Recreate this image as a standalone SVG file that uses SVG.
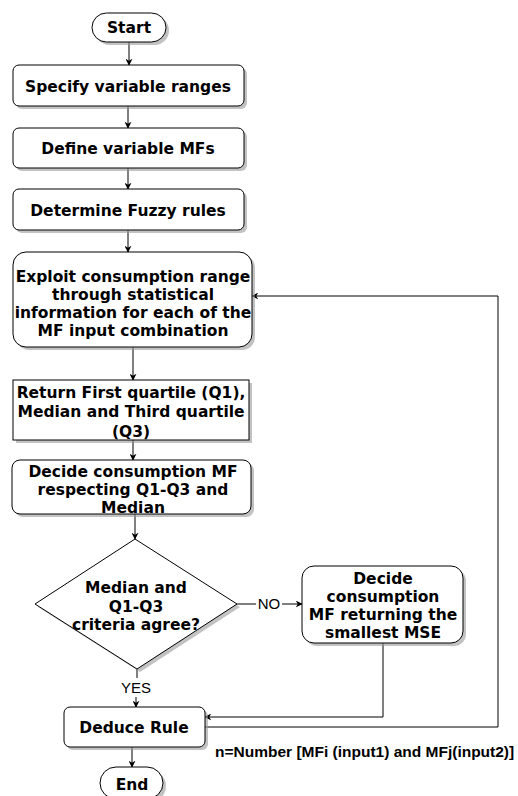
<svg xmlns="http://www.w3.org/2000/svg" width="518" height="796" viewBox="0 0 518 796">
<defs>
<marker id="arr" viewBox="0 0 10 10" refX="9" refY="5" markerWidth="7" markerHeight="7" markerUnits="userSpaceOnUse" orient="auto">
<path d="M0,0 L10,5 L0,10 L3,5 Z" fill="#000"/>
</marker>
<style>
.box{fill:#fff;stroke:#000;stroke-width:1}
.sh{fill:#999;opacity:0.6}
.t{font-family:"DejaVu Sans",Verdana,sans-serif;font-weight:bold;font-size:15.5px;text-anchor:middle;fill:#000}
.c{fill:none;stroke:#000;stroke-width:1}
.lb{font-family:"Liberation Sans",Arial,sans-serif;font-size:15px;fill:#000;text-anchor:middle}
</style>
</defs>
<rect width="518" height="796" fill="#fff"/>
<g id="connectors">
<line class="c" x1="129" y1="42" x2="129" y2="65" marker-end="url(#arr)"/>
<line class="c" x1="128" y1="106" x2="128" y2="128" marker-end="url(#arr)"/>
<line class="c" x1="128" y1="168" x2="128" y2="189" marker-end="url(#arr)"/>
<line class="c" x1="128" y1="230" x2="128" y2="252" marker-end="url(#arr)"/>
<line class="c" x1="133" y1="347" x2="133" y2="380" marker-end="url(#arr)"/>
<line class="c" x1="133" y1="440" x2="133" y2="460" marker-end="url(#arr)"/>
<line class="c" x1="135" y1="514" x2="135" y2="539" marker-end="url(#arr)"/>
<polyline class="c" points="137,669 137,678"/>
<line class="c" x1="136" y1="697" x2="136" y2="707" marker-end="url(#arr)"/>
<text class="lb" x="136" y="693">YES</text>
<line class="c" x1="237" y1="604" x2="256" y2="604"/>
<text class="lb" x="269" y="609">NO</text>
<line class="c" x1="282" y1="604" x2="302" y2="604" marker-end="url(#arr)"/>
<polyline class="c" points="383,643 383,717 205,717" marker-end="url(#arr)"/>
<polyline class="c" points="205,727 498,727 498,296 252,296" marker-end="url(#arr)"/>
<line class="c" x1="132" y1="747" x2="132" y2="767" marker-end="url(#arr)"/>
</g>
<g id="start">
<rect class="sh" x="95" y="16" width="74" height="29" rx="14.5"/>
<rect class="box" x="92" y="13" width="74" height="29" rx="14.5"/>
<text class="t" x="129" y="33">Start</text>
</g>
<g id="n1">
<rect class="sh" x="16" y="68" width="231" height="41" rx="6"/>
<rect class="box" x="13" y="65" width="231" height="41" rx="6"/>
<text class="t" x="128" y="92">Specify variable ranges</text>
</g>
<g id="n2">
<rect class="sh" x="16" y="131" width="231" height="40" rx="6"/>
<rect class="box" x="13" y="128" width="231" height="40" rx="6"/>
<text class="t" x="128" y="154">Define variable MFs</text>
</g>
<g id="n3">
<rect class="sh" x="16" y="192" width="231" height="41" rx="6"/>
<rect class="box" x="13" y="189" width="231" height="41" rx="6"/>
<text class="t" x="128" y="216">Determine Fuzzy rules</text>
</g>
<g id="n4">
<rect class="sh" x="16" y="255" width="239" height="95" rx="13"/>
<rect class="box" x="13" y="252" width="239" height="95" rx="13"/>
<text class="t" x="133" y="282">Exploit consumption range</text>
<text class="t" x="133" y="300">through statistical</text>
<text class="t" x="133" y="318">information for each of the</text>
<text class="t" x="133" y="336">MF input combination</text>
</g>
<g id="n5">
<rect class="sh" x="16" y="383" width="236" height="60"/>
<rect class="box" x="13" y="380" width="236" height="60"/>
<text class="t" x="131" y="398">Return First quartile (Q1),</text>
<text class="t" x="131" y="417">Median and Third quartile</text>
<text class="t" x="131" y="437">(Q3)</text>
</g>
<g id="n6">
<rect class="sh" x="15" y="463" width="239" height="54" rx="8"/>
<rect class="box" x="12" y="460" width="239" height="54" rx="8"/>
<text class="t" x="133" y="477">Decide consumption MF</text>
<text class="t" x="133" y="495">respecting Q1-Q3 and</text>
<text class="t" x="133" y="513">Median</text>
</g>
<g id="n7">
<polygon class="sh" points="138,542 240,607 140,672 38,607"/>
<polygon class="box" points="135,539 237,604 137,669 35,604"/>
<text class="t" x="136" y="593">Median and</text>
<text class="t" x="136" y="612">Q1-Q3</text>
<text class="t" x="136" y="630">criteria agree?</text>
</g>
<g id="n8">
<rect class="sh" x="305" y="569" width="161" height="77" rx="12"/>
<rect class="box" x="302" y="566" width="161" height="77" rx="12"/>
<text class="t" x="383" y="584">Decide</text>
<text class="t" x="383" y="602">consumption</text>
<text class="t" x="383" y="620">MF returning the</text>
<text class="t" x="383" y="638">smallest MSE</text>
</g>
<g id="n9">
<rect class="sh" x="67" y="710" width="141" height="40" rx="6"/>
<rect class="box" x="64" y="707" width="141" height="40" rx="6"/>
<text class="t" x="134" y="733">Deduce Rule</text>
</g>
<g id="end">
<rect class="sh" x="103" y="770" width="63" height="32" rx="16"/>
<rect class="box" x="100" y="767" width="63" height="32" rx="16"/>
<text class="t" x="132" y="790">End</text>
</g>
<text x="215" y="757" font-family="'Liberation Sans',Arial,sans-serif" font-weight="bold" font-size="15.5px" fill="#000">n=Number [MFi (input1) and MFj(input2)]</text>
</svg>
